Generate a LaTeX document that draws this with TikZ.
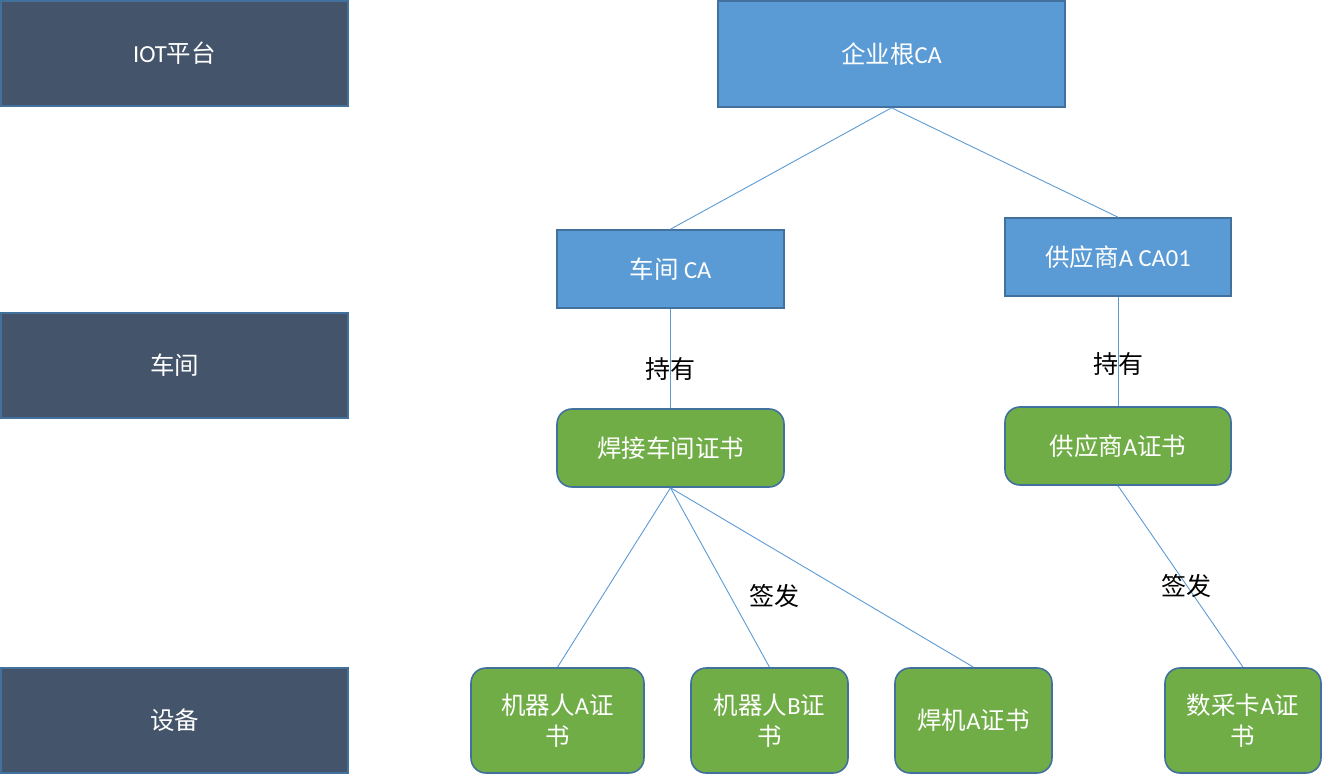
\documentclass[tikz,border=0pt]{standalone}
\usepackage{fontspec}
\setmainfont{Carlito}
\newfontfamily\cjk{Noto Sans CJK SC}
\newcommand\zh[1]{{\cjk #1}}
\definecolor{darkbox}{HTML}{44546A}
\definecolor{bluebox}{HTML}{5B9BD5}
\definecolor{greenbox}{HTML}{70AD47}
\definecolor{edgeblue}{HTML}{41719C}
\definecolor{linkblue}{HTML}{5B9BD5}
\tikzset{
  base/.style={draw=edgeblue, line width=1.6pt, text=white, inner sep=0pt, align=center,
     font=\fontsize{24.5}{31}\selectfont},
  levelbox/.style={base, fill=darkbox, minimum width=347pt, minimum height=105pt},
  cabox/.style={base, fill=bluebox},
  certbox/.style={base, fill=greenbox, rounded corners=15pt},
  link/.style={draw=linkblue, line width=0.9pt},
  lbl/.style={text=black, inner sep=0pt, font=\fontsize{25}{30}\selectfont}
}
\begin{document}
\begin{tikzpicture}[x=1pt,y=-1pt]
\useasboundingbox (0,0) rectangle (1322,775);
\node[levelbox] (iot) at (174.5,53.5) {IOT\zh{平台}};
\node[levelbox] (shop) at (174.5,365.5) {\zh{车间}};
\node[levelbox] (dev) at (174.5,720.5) {\zh{设备}};

\node[cabox, minimum width=347pt, minimum height=106pt] (root) at (891.5,54) {\zh{企业根}CA};
\node[cabox, minimum width=227pt, minimum height=78pt] (shopca) at (670.5,269) {\zh{车间} CA};
\node[cabox, minimum width=226pt, minimum height=78pt] (supca) at (1118,257) {\zh{供应商}A CA01};

\node[certbox, minimum width=227pt, minimum height=78pt] (weldcert) at (670.5,448) {\zh{焊接车间证书}};
\node[certbox, minimum width=226pt, minimum height=78pt] (supcert) at (1118,446) {\zh{供应商}A\zh{证书}};

\node[certbox, minimum width=173pt, minimum height=105pt] (roba) at (557.5,720.5) {\zh{机器人}A\zh{证}\\\zh{书}};
\node[certbox, minimum width=157pt, minimum height=105pt] (robb) at (769.5,720.5) {\zh{机器人}B\zh{证}\\\zh{书}};
\node[certbox, minimum width=157pt, minimum height=105pt] (welder) at (973.5,720.5) {\zh{焊机}A\zh{证书}};
\node[certbox, minimum width=156pt, minimum height=105pt] (daq) at (1243,720.5) {\zh{数采卡}A\zh{证}\\\zh{书}};

\draw[link] (root.south) -- (shopca.north);
\draw[link] (root.south) -- (supca.north);
\draw[link] (shopca.south) -- (weldcert.north);
\draw[link] (supca.south) -- (supcert.north);
\draw[link] (weldcert.south) -- (roba.north);
\draw[link] (weldcert.south) -- (robb.north);
\draw[link] (weldcert.south) -- (welder.north);
\draw[link] (supcert.south) -- (daq.north);

\node[lbl] (hold1) at (670,369) {\zh{持有}};
\node[lbl] (hold2) at (1118,364) {\zh{持有}};
\node[lbl] (sign1) at (774,596) {\zh{签发}};
\node[lbl] (sign2) at (1186,586) {\zh{签发}};
\end{tikzpicture}
\end{document}
